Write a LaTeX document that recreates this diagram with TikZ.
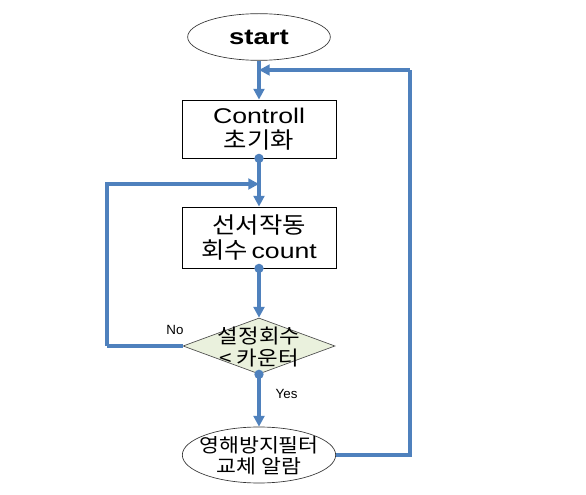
\documentclass[tikz,border=0pt]{standalone}
\usepackage{fontspec}
\setmainfont{Liberation Sans}
\newfontfamily\latw[FakeStretch=1.25]{Liberation Sans}
\newfontfamily\kr{Noto Sans CJK KR}
\newfontfamily\krw[FakeStretch=1.12]{Noto Sans CJK KR}
\usetikzlibrary{shapes.geometric,arrows.meta}
\definecolor{flowblue}{HTML}{4F81BD}
\definecolor{diafill}{HTML}{EAF1DD}
\begin{document}
\begin{tikzpicture}[x=0.75pt,y=-0.75pt,
  flow/.style={draw=flowblue,line width=3pt,-{Triangle[length=8pt,width=8pt]}},
  plainflow/.style={draw=flowblue,line width=3pt},
  dot/.style={fill=flowblue,circle,inner sep=0pt,minimum size=7pt},
  term/.style={ellipse,draw=black!80,line width=0.5pt,inner sep=0pt,minimum width=107pt,minimum height=35pt},
  procbox/.style={rectangle,draw=black,line width=0.6pt,inner sep=1pt,minimum width=115.5pt,align=center},
  decision/.style={diamond,draw=black!70,line width=0.5pt,fill=diafill,inner sep=0pt,minimum width=114pt,minimum height=42pt},
  txt/.style={align=center,inner sep=0pt},
  lbl/.style={font=\fontsize{10}{12}\selectfont,inner sep=0pt}]
\useasboundingbox (0,0) rectangle (586,495);
\node[term] (start) at (259,37) {\latw\fontsize{16.5}{18}\selectfont\bfseries start};
\node[procbox,minimum height=43.5pt] (ctrl) at (259,129) {{\latw\fontsize{16}{18}\selectfont Controll}\\[4pt]{\krw\fontsize{17}{18}\selectfont 초기화}};
\node[procbox,minimum height=45.75pt] (sens) at (259,237.5) {{\krw\fontsize{17}{18}\selectfont 선서작동}\\[3pt]{\krw\fontsize{17}{18}\selectfont 회수} {\latw\fontsize{16}{18}\selectfont count}};
\node[decision] (dec) at (259,346) {};
\node[txt] (dectxt) at (259,347) {{\krw\fontsize{15}{18}\selectfont 설정회수}\\[2pt]{\krw\fontsize{15}{18}\selectfont < 카운터}};
\node[term,minimum width=115pt,minimum height=42pt] (alarm) at (259,455) {};
\node[txt] (alarmtxt) at (259,456) {{\krw\fontsize{14.5}{18}\selectfont 영해방지필터}\\[2pt]{\krw\fontsize{14.5}{18}\selectfont 교체 알람}};
\coordinate (j1) at (259,70);
\coordinate (loopR) at (410,70);
\coordinate (j2) at (259,184);
\coordinate (loopL) at (107,346);
\draw[flow] (start.south) -- (ctrl.north);
\draw[flow] (ctrl.south) -- (sens.north);
\draw[flow] (sens.south) -- (dec.north);
\draw[flow] (dec.south) -- node[lbl,right=11pt,pos=0.38] (yes) {Yes} (alarm.north);
\draw[plainflow] (alarm.east) -| (loopR);
\draw[flow] (loopR) -- (j1);
\draw[plainflow] (dec.west) -- (loopL);
\draw[flow] (loopL) |- (j2);
\node[lbl] (no) at (175,330) {No};
\node[dot] (d1) at (ctrl.south) {};
\node[dot] (d2) at (sens.south) {};
\node[dot] (d3) at (dec.south) {};
\end{tikzpicture}
\end{document}
